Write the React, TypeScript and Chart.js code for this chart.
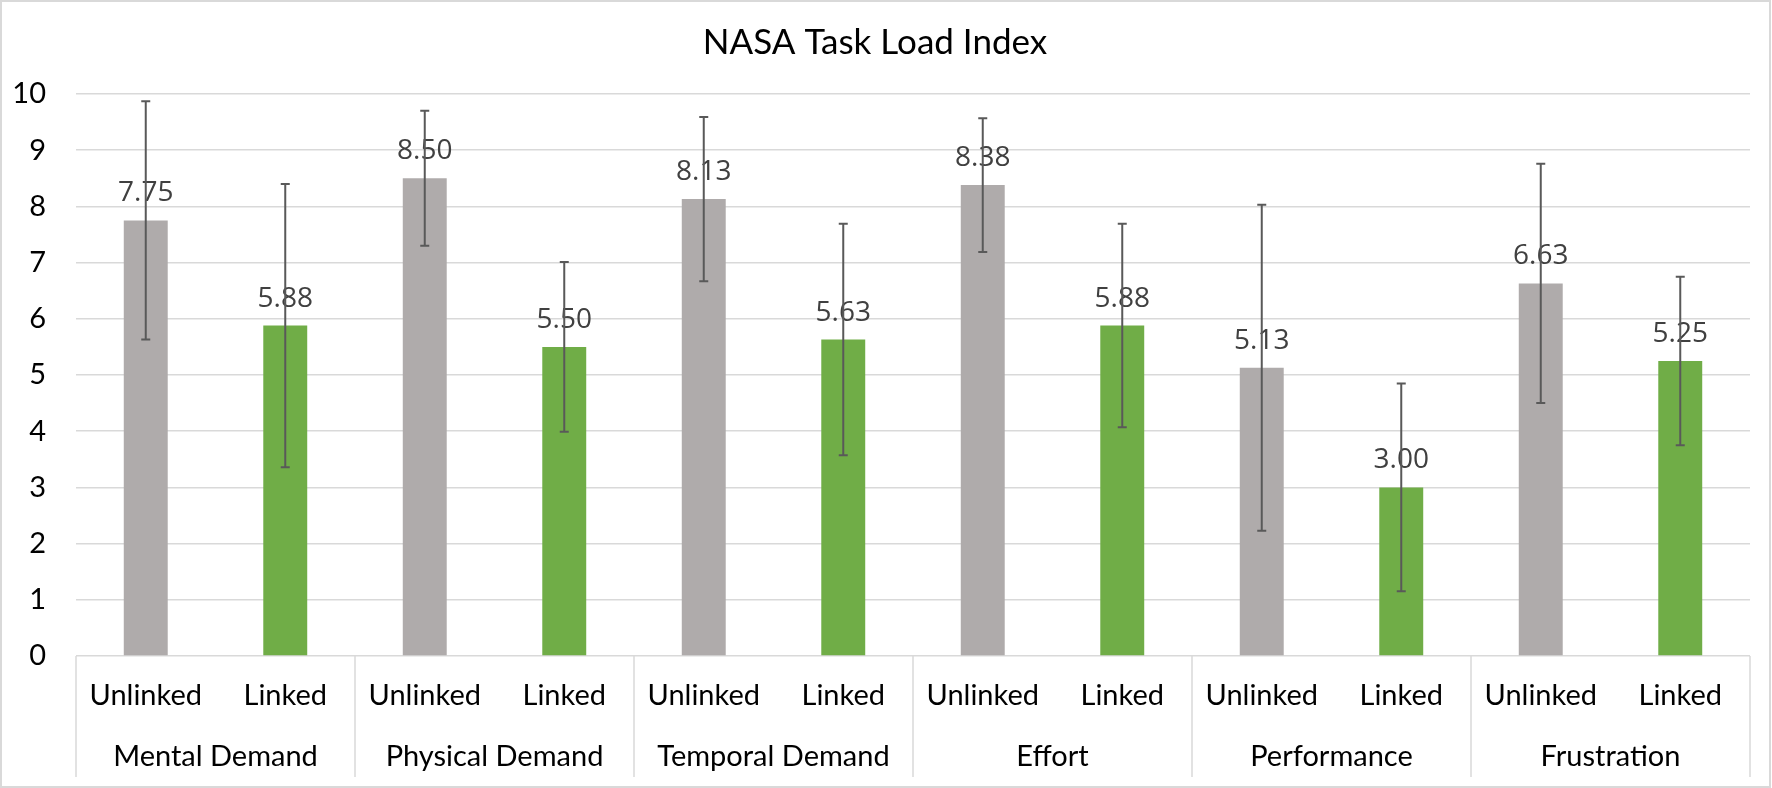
import React, { useEffect, useRef } from "react";
import { Chart, registerables } from "chart.js";

Chart.register(...registerables);

const title = "NASA Task Load Index";
const categories = ["Mental Demand", "Physical Demand", "Temporal Demand", "Effort", "Performance", "Frustration"];
const conditions = ["Unlinked", "Linked"];
const unlinkedMean = [7.75, 8.5, 8.13, 8.38, 5.13, 6.63];
const linkedMean = [5.88, 5.5, 5.63, 5.88, 3.0, 5.25];
const unlinkedErr = [2.12, 1.2, 1.46, 1.19, 2.9, 2.13];
const linkedErr = [2.52, 1.51, 2.06, 1.81, 1.85, 1.5];
const conditionColors = ["#AFABAB", "#70AD47"];
const yMin = 0;
const yMax = 10;
const yStep = 1;

const labels: string[] = [];
const means: number[] = [];
const errs: number[] = [];
const colors: string[] = [];
categories.forEach((_, i) => {
  labels.push(conditions[0], conditions[1]);
  means.push(unlinkedMean[i], linkedMean[i]);
  errs.push(unlinkedErr[i], linkedErr[i]);
  colors.push(conditionColors[0], conditionColors[1]);
});

const FONT = "Lato, 'Liberation Sans', sans-serif";
const LABEL_FONT = "'Open Sans', 'DejaVu Sans', sans-serif";

const extras = {
  id: "nasaExtras",
  beforeDraw(chart: any) {
    const ctx = chart.ctx;
    ctx.save();
    ctx.fillStyle = "#FFFFFF";
    ctx.fillRect(0, 0, chart.width, chart.height);
    ctx.restore();
  },
  afterDatasetsDraw(chart: any) {
    const ctx = chart.ctx;
    const meta = chart.getDatasetMeta(0);
    const yScale = chart.scales.y;
    ctx.save();
    ctx.font = `28px ${LABEL_FONT}`;
    ctx.fillStyle = "#404040";
    ctx.textAlign = "center";
    ctx.textBaseline = "alphabetic";
    meta.data.forEach((bar: any, i: number) => {
      ctx.fillText(means[i].toFixed(2), bar.x, bar.y - 19);
    });
    ctx.strokeStyle = "#595959";
    ctx.lineWidth = 2;
    meta.data.forEach((bar: any, i: number) => {
      const top = yScale.getPixelForValue(means[i] + errs[i]);
      const bot = yScale.getPixelForValue(means[i] - errs[i]);
      ctx.beginPath();
      ctx.moveTo(bar.x, top);
      ctx.lineTo(bar.x, bot);
      ctx.moveTo(bar.x - 4.5, top);
      ctx.lineTo(bar.x + 4.5, top);
      ctx.moveTo(bar.x - 4.5, bot);
      ctx.lineTo(bar.x + 4.5, bot);
      ctx.stroke();
    });
    ctx.restore();
  },
  afterDraw(chart: any) {
    const ctx = chart.ctx;
    const x = chart.scales.x;
    const area = chart.chartArea;
    ctx.save();
    ctx.strokeStyle = "#D9D9D9";
    ctx.lineWidth = 1.5;
    const boxBottom = 777;
    for (let k = 0; k <= categories.length; k++) {
      let px: number;
      if (k === 0) px = area.left;
      else if (k === categories.length) px = area.right;
      else px = (x.getPixelForValue(2 * k - 1) + x.getPixelForValue(2 * k)) / 2;
      ctx.beginPath();
      ctx.moveTo(px, area.bottom);
      ctx.lineTo(px, boxBottom);
      ctx.stroke();
    }
    ctx.font = `29px ${FONT}`;
    ctx.fillStyle = "#000000";
    ctx.textAlign = "center";
    ctx.textBaseline = "middle";
    categories.forEach((c, k) => {
      const cx = (x.getPixelForValue(2 * k) + x.getPixelForValue(2 * k + 1)) / 2;
      ctx.fillText(c, cx, 757);
    });
    ctx.lineWidth = 2;
    ctx.strokeRect(1, 1, chart.width - 3, chart.height - 2);
    ctx.restore();
  },
};

export default function App() {
  const ref = useRef<HTMLCanvasElement | null>(null);
  useEffect(() => {
    if (!ref.current) return;
    const chart = new Chart(ref.current, {
      type: "bar",
      data: {
        labels,
        datasets: [
          {
            label: "Score",
            data: means,
            backgroundColor: colors,
            borderWidth: 0,
            categoryPercentage: 1,
            barPercentage: 0.315,
          },
        ],
      },
      options: {
        animation: false,
        responsive: false,
        devicePixelRatio: 1,
        layout: { padding: { left: 0, right: 22, top: 0, bottom: 0 } },
        plugins: {
          legend: { display: false },
          tooltip: { enabled: false },
          title: {
            display: true,
            text: title,
            color: "#000000",
            font: { family: FONT, size: 35, weight: "normal" },
            padding: { top: 22, bottom: 30 },
          },
        },
        scales: {
          x: {
            grid: { display: false },
            border: { display: false },
            ticks: {
              color: "#000000",
              font: { family: FONT, size: 29 },
              padding: 14,
              autoSkip: false,
              maxRotation: 0,
            },
            afterFit(scale: any) {
              scale.height = 132;
            },
          },
          y: {
            min: yMin,
            max: yMax,
            grid: { color: "#D9D9D9", lineWidth: 1.5, drawTicks: false },
            border: { display: false },
            ticks: {
              stepSize: yStep,
              color: "#000000",
              font: { family: FONT, size: 29 },
              padding: 30,
            },
            afterFit(scale: any) {
              scale.width = 76;
            },
          },
        },
      },
      plugins: [extras],
    });
    return () => chart.destroy();
  }, []);
  return (
    <div style={{ position: "fixed", left: 0, top: 0, width: 1772, height: 788, background: "#fff" }}>
      <canvas ref={ref} width={1772} height={788} style={{ display: "block" }} />
    </div>
  );
}
